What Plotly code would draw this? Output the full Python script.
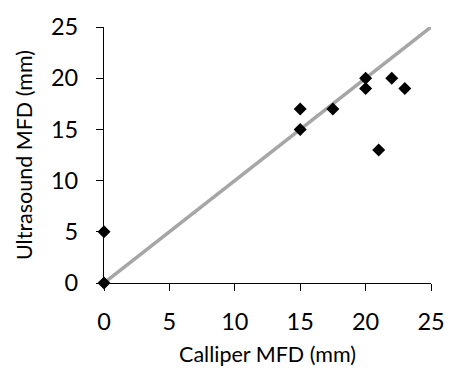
import plotly.graph_objects as go

calliper = [0, 0, 15, 15, 17.5, 20, 20, 22, 23, 21]
ultrasound = [5, 0, 17, 15, 17, 20, 19, 20, 19, 13]
line_x = [0, 25]
line_y = [0, 25]
ticks = [0, 5, 10, 15, 20, 25]

FONT = "Lato"

fig = go.Figure()
fig.add_trace(go.Scatter(x=line_x, y=line_y, mode="lines",
                         line=dict(color="#A6A6A6", width=3.5),
                         hoverinfo="skip", cliponaxis=False))
fig.add_trace(go.Scatter(x=calliper, y=ultrasound, mode="markers",
                         marker=dict(symbol="diamond", size=10, color="black"),
                         cliponaxis=False))

axis_common = dict(range=[0, 25], tickvals=ticks, showgrid=False, zeroline=False,
                   showline=True, linecolor="black", linewidth=1.3,
                   ticks="outside", ticklen=7, tickwidth=1.3, tickcolor="black",
                   tickfont=dict(family=FONT, size=23.5, color="black"))

fig.update_layout(
    width=457, height=374,
    margin=dict(l=104, r=15, t=23, b=91),
    plot_bgcolor="white", paper_bgcolor="white",
    showlegend=False,
    xaxis=dict(**axis_common, ticklabelstandoff=11,
               title=dict(text="Calliper MFD (mm)", font=dict(family=FONT, size=21.5, color="black"),
                          standoff=12)),
    yaxis=dict(**axis_common, ticklabelstandoff=13,
               title=dict(text="Ultrasound MFD (mm)", font=dict(family=FONT, size=21.5, color="black"),
                          standoff=12)),
)
fig.write_html("out.html")
